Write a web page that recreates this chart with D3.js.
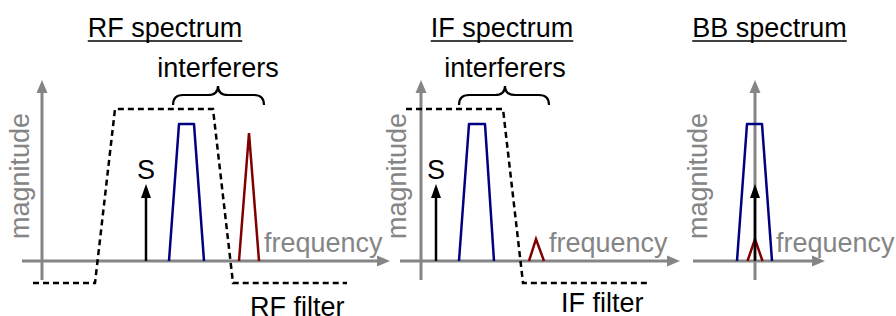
<!DOCTYPE html>
<html>
<head>
<meta charset="utf-8">
<script src="https://cdn.jsdelivr.net/npm/d3@7"></script>
<style>
  html, body { margin: 0; padding: 0; background: #fff; }
  svg { display: block; }
  text { font-family: "Liberation Sans", Arial, sans-serif; }
</style>
</head>
<body>
<svg id="chart" width="896" height="316"></svg>
<script>
// ---------------- data ----------------
const panelTitles = ["RF spectrum", "IF spectrum", "BB spectrum"];
// frequency axis extent per panel (frequency units, origin = vertical axis)
const freqAxisExtent = [[-10, 174], [-10.5, 129.5], [-31, 35]];
const magAxisExtent = [-9.5, 90.5];
// desired signal S (impulse)
const signalFreq = [52, 7.5, 0];
const signalMag = 38.5;
// blue (wideband) interferer: trapezoid corners
const blueFreq = [[63.5, 68.5, 76, 81], [19, 24, 32, 36.5], [-9, -4, 3.5, 8.5]];
const blueMag = [0, 68.5, 68.5, 0];
// red (narrowband) interferer: triangle
const redFreq = [[98.5, 103.5, 108.5], [54, 57.5, 61.5], [-3.75, 0, 3.75]];
const redPeak = [64, 11, 11];
// filters (dashed)
const rfFilterFreq = [-4.5, 26.5, 36.5, 85.5, 95.5, 152.5];
const rfFilterMag = [-11, -11, 76, 76, -11, -11];
const ifFilterFreq = [-7.5, 41, 51, 113];
const ifFilterMag = [76, 76, -11, -11];
// "interferers" braces: [left, peak, right] per panel (RF, IF)
const braceFreq = [[65.5, 88, 111], [19, 42, 64]];
const braceMag = [78, 83, 87.5]; // ends, shoulder, tip
// labels
const axisLabelX = "frequency";
const axisLabelY = "magnitude";
const signalLabel = "S";
const braceLabel = "interferers";
const filterLabels = ["RF filter", "IF filter"];

// ---------------- layout ----------------
const origins = [42, 421, 755];
const pxPerUnit = 2;
const y = d3.scaleLinear().domain([0, 100]).range([261, 61]);
const xs = origins.map(o => d3.scaleLinear().domain([0, 100]).range([o, o + 100 * pxPerUnit]));

const gray = "#858585";
const navy = "#000080";
const maroon = "#800000";
const FS = 27;

const svg = d3.select("#chart");

function arrow(g, x1, y1, x2, y2, color, width, headLen, headHalf) {
  const dx = x2 - x1, dy = y2 - y1, L = Math.hypot(dx, dy);
  const ux = dx / L, uy = dy / L;
  const bx = x2 - ux * (headLen - 1), by = y2 - uy * (headLen - 1);
  g.append("line").attr("x1", x1).attr("y1", y1).attr("x2", bx).attr("y2", by)
    .attr("stroke", color).attr("stroke-width", width);
  const px = -uy, py = ux;
  const hx = x2 - ux * headLen, hy = y2 - uy * headLen;
  g.append("path")
    .attr("d", `M${x2},${y2}L${hx + px * headHalf},${hy + py * headHalf}L${hx - px * headHalf},${hy - py * headHalf}Z`)
    .attr("fill", color);
}

const titleX = [165, 502, 769.5];
const freqLabelX = [264, 549, 776];
const magLabelX = [29, 406, 707];

panelTitles.forEach((title, i) => {
  const x = xs[i];
  const g = svg.append("g");

  // axes
  arrow(g, x(freqAxisExtent[i][0]), y(0), x(freqAxisExtent[i][1]), y(0), gray, 3, 13, 5.5);
  arrow(g, x(0), y(magAxisExtent[0]), x(0), y(magAxisExtent[1]), gray, 3, 13, 5.5);

  // axis labels
  g.append("text").attr("x", freqLabelX[i]).attr("y", 252)
    .attr("font-size", FS).attr("fill", gray).text(axisLabelX);
  g.append("text").attr("transform", `translate(${magLabelX[i]},239) rotate(-90)`)
    .attr("font-size", FS).attr("fill", gray).text(axisLabelY);

  // title with underline
  const t = g.append("text").attr("x", titleX[i]).attr("y", 37)
    .attr("text-anchor", "middle").attr("font-size", FS).attr("fill", "#000").text(title);
  const w = t.node().getComputedTextLength();
  g.append("line").attr("x1", titleX[i] - w / 2).attr("x2", titleX[i] + w / 2)
    .attr("y1", 41).attr("y2", 41).attr("stroke", "#000").attr("stroke-width", 1.6);

  // blue interferer
  const lineGen = d3.line().x(d => x(d[0])).y(d => y(d[1]));
  g.append("path").attr("d", lineGen(blueFreq[i].map((f, k) => [f, blueMag[k]])))
    .attr("fill", "none").attr("stroke", navy).attr("stroke-width", 2.5).attr("stroke-linejoin", "round");

  // red interferer
  const rf = redFreq[i];
  g.append("path").attr("d", lineGen([[rf[0], 0], [rf[1], redPeak[i]], [rf[2], 0]]))
    .attr("fill", "none").attr("stroke", maroon).attr("stroke-width", 2.5).attr("stroke-linejoin", "miter");

  // signal S
  arrow(g, x(signalFreq[i]), y(0), x(signalFreq[i]), y(signalMag), "#000", 2.5, 14, 5);
  if (i < 2) {
    g.append("text").attr("x", x(signalFreq[i])).attr("y", 179)
      .attr("text-anchor", "middle").attr("font-size", FS).attr("fill", "#000").text(signalLabel);
  }

  // braces
  if (i < 2) {
    const [b0, bm, b1] = braceFreq[i].map(x);
    const [ye, ys, yt] = braceMag.map(y);
    const r = 10;
    const d = `M${b0},${ye}Q${b0},${ys} ${b0 + r},${ys}L${bm - r},${ys}Q${bm},${ys} ${bm},${yt}` +
              `Q${bm},${ys} ${bm + r},${ys}L${b1 - r},${ys}Q${b1},${ys} ${b1},${ye}`;
    g.append("path").attr("d", d).attr("fill", "none").attr("stroke", "#000").attr("stroke-width", 2.2);
    g.append("text").attr("x", x(braceFreq[i][1])).attr("y", 77)
      .attr("text-anchor", "middle").attr("font-size", FS).attr("fill", "#000").text(braceLabel);
  }
});

// filters
const dashLine = (i, fr, mg) => d3.line().x(d => xs[i](d[0])).y(d => y(d[1]))(fr.map((f, k) => [f, mg[k]]));
svg.append("path").attr("d", dashLine(0, rfFilterFreq, rfFilterMag))
  .attr("fill", "none").attr("stroke", "#000").attr("stroke-width", 2.5).attr("stroke-dasharray", "6,4");
svg.append("path").attr("d", dashLine(1, ifFilterFreq, ifFilterMag))
  .attr("fill", "none").attr("stroke", "#000").attr("stroke-width", 2.5).attr("stroke-dasharray", "6,4");
svg.append("text").attr("x", 250).attr("y", 316).attr("font-size", FS).attr("fill", "#000").text(filterLabels[0]);
svg.append("text").attr("x", 561).attr("y", 312).attr("font-size", FS).attr("fill", "#000").text(filterLabels[1]);
</script>
</body>
</html>
